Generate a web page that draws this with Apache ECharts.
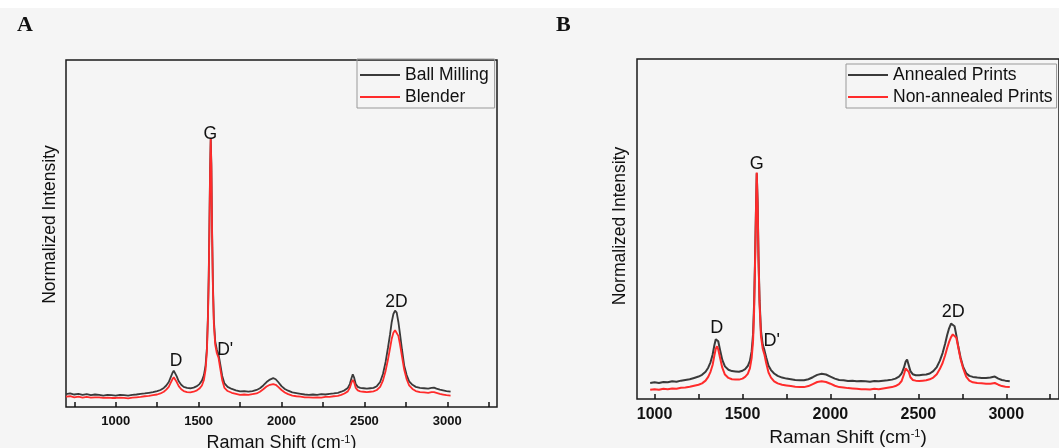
<!DOCTYPE html>
<html>
<head>
<meta charset="utf-8">
<script src="https://cdn.jsdelivr.net/npm/echarts@6/dist/echarts.min.js"></script>
<style>
  html, body { margin: 0; padding: 0; background: #f5f5f5; }
  #chart { width: 1059px; height: 448px; }
</style>
</head>
<body>
<div id="chart"></div>
<script>
// Panel A: Ball Milling vs Blender
const shiftA = [
  700, 725, 750, 775, 800, 825, 850, 875, 900, 925,
  950, 975, 1000, 1025, 1050, 1075, 1100, 1125, 1150, 1175,
  1200, 1225, 1250, 1270, 1290, 1305, 1320, 1332, 1342, 1350,
  1358, 1368, 1380, 1395, 1410, 1430, 1450, 1470, 1490, 1505,
  1520, 1532, 1542, 1550, 1556, 1561, 1565, 1569, 1573, 1577,
  1581, 1586, 1592, 1600, 1610, 1620, 1630, 1642, 1656, 1675,
  1700, 1725, 1750, 1775, 1800, 1825, 1850, 1870, 1890, 1910,
  1930, 1950, 1965, 1980, 2000, 2020, 2040, 2065, 2090, 2115,
  2140, 2165, 2190, 2215, 2240, 2265, 2290, 2315, 2340, 2360,
  2380, 2400, 2412, 2422, 2430, 2438, 2448, 2460, 2475, 2495,
  2515, 2535, 2555, 2575, 2595, 2612, 2628, 2642, 2655, 2665,
  2675, 2685, 2695, 2705, 2715, 2727, 2740, 2755, 2770, 2790,
  2810, 2835, 2860, 2885, 2905, 2920, 2935, 2955, 2975, 2995,
  3020
]
const ballMilling = [
  .037, .039, .036, .038, .035, .037, .034, .036, .035, .033,
  .035, .034, .033, .035, .034, .033, .035, .036, .038, .039,
  .041, .043, .046, .049, .055, .062, .072, .086, .098, .105,
  .101, .088, .074, .064, .058, .055, .054, .056, .060, .066,
  .076, .092, .12, .17, .26, .38, .52, .68, .774, .70,
  .52, .36, .25, .19, .165, .152, .125, .09, .068, .058,
  .052, .048, .045, .046, .044, .046, .049, .054, .062, .072,
  .079, .083, .080, .072, .060, .052, .047, .042, .040, .038,
  .036, .035, .036, .035, .037, .036, .038, .039, .041, .044,
  .048, .055, .066, .083, .094, .085, .066, .058, .055, .054,
  .053, .054, .055, .060, .072, .095, .13, .17, .21, .245,
  .268, .278, .272, .245, .21, .165, .12, .092, .074, .064,
  .058, .055, .054, .053, .055, .056, .053, .050, .048, .046,
  .044
]
const blender = [
  .030, .031, .028, .030, .027, .029, .027, .028, .028, .026,
  .027, .026, .026, .027, .026, .025, .027, .028, .029, .031,
  .032, .034, .036, .039, .044, .050, .058, .070, .080, .086,
  .082, .072, .060, .051, .046, .043, .042, .044, .048, .053,
  .062, .078, .108, .16, .25, .37, .51, .67, .772, .69,
  .51, .35, .24, .18, .155, .142, .112, .078, .055, .046,
  .041, .038, .035, .036, .035, .037, .039, .044, .051, .059,
  .064, .066, .064, .058, .049, .042, .037, .033, .031, .030,
  .028, .028, .027, .028, .027, .029, .029, .031, .032, .035,
  .039, .045, .055, .070, .078, .071, .055, .048, .045, .044,
  .043, .044, .045, .049, .058, .076, .104, .136, .17, .197,
  .214, .221, .222, .205, .18, .145, .108, .08, .062, .052,
  .046, .043, .042, .041, .043, .043, .041, .038, .036, .034,
  .033
]

// Panel B: annealed vs non-annealed prints
const shiftB = [
  975, 1000, 1025, 1050, 1075, 1100, 1125, 1150, 1175, 1200,
  1225, 1250, 1270, 1290, 1305, 1318, 1330, 1340, 1348, 1355,
  1362, 1372, 1385, 1400, 1420, 1440, 1460, 1480, 1500, 1515,
  1530, 1542, 1552, 1560, 1566, 1571, 1576, 1581, 1586, 1591,
  1597, 1605, 1615, 1625, 1635, 1648, 1662, 1680, 1700, 1725,
  1750, 1775, 1800, 1825, 1850, 1875, 1900, 1925, 1950, 1975,
  2000, 2025, 2050, 2075, 2100, 2125, 2150, 2175, 2200, 2225,
  2250, 2275, 2300, 2325, 2350, 2370, 2390, 2405, 2418, 2428,
  2436, 2445, 2455, 2468, 2485, 2505, 2525, 2545, 2565, 2585,
  2605, 2622, 2638, 2652, 2664, 2675, 2686, 2696, 2706, 2716,
  2727, 2740, 2755, 2772, 2790, 2810, 2835, 2860, 2885, 2910,
  2935, 2955, 2975, 2995, 3020
]
const annealed = [
  .047, .049, .047, .050, .049, .052, .051, .054, .056, .058,
  .062, .066, .071, .080, .092, .108, .13, .158, .176, .181,
  .170, .145, .115, .096, .086, .082, .081, .080, .083, .088,
  .097, .112, .14, .19, .28, .40, .54, .664, .58, .42,
  .29, .20, .16, .143, .122, .098, .085, .075, .068, .063,
  .060, .058, .056, .055, .055, .058, .064, .071, .074, .072,
  .066, .060, .056, .055, .053, .054, .052, .053, .052, .051,
  .053, .052, .054, .055, .057, .060, .066, .075, .092, .110,
  .116, .100, .082, .073, .070, .070, .071, .072, .075, .082,
  .094, .112, .135, .162, .188, .208, .222, .226, .214, .188,
  .155, .122, .094, .076, .068, .065, .063, .062, .062, .063,
  .066, .060, .056, .054, .052
]
const nonAnnealed = [
  .027, .029, .027, .030, .029, .031, .030, .033, .034, .036,
  .039, .042, .046, .054, .065, .080, .10, .128, .148, .155,
  .146, .122, .092, .072, .062, .058, .057, .057, .060, .065,
  .074, .090, .12, .17, .26, .39, .53, .666, .57, .41,
  .28, .185, .148, .13, .105, .078, .063, .052, .046, .042,
  .040, .038, .036, .035, .035, .038, .044, .050, .052, .050,
  .045, .039, .035, .034, .032, .031, .030, .029, .029, .028,
  .030, .029, .031, .033, .035, .038, .044, .053, .072, .090,
  .094, .080, .064, .056, .054, .053, .054, .055, .058, .063,
  .073, .088, .106, .128, .150, .168, .182, .19, .194, .18,
  .152, .118, .09, .066, .054, .049, .047, .046, .045, .045,
  .047, .042, .038, .036, .035
]

// peak labels (name, shift, height)
const peakNames = ['D', 'G', "D'", '2D']
const peakShiftA = [1364, 1570, 1660, 2693]
const peakYA = [0.131, 0.785, 0.164, 0.303]
const peakShiftB = [1353, 1581, 1666, 2699]
const peakYB = [0.209, 0.692, 0.170, 0.255]

const ticksA = [750, 1000, 1250, 1500, 1750, 2000, 2250, 2500, 2750, 3000, 3250]
const ticksB = [1000, 1250, 1500, 1750, 2000, 2250, 2500, 2750, 3000, 3250]
const labels = [1000, 1500, 2000, 2500, 3000]

const FONT = '"Liberation Sans", Arial, sans-serif'
const BLACK = '#3a3a3a'
const RED = '#ff2b2b'

const pairs = (xs, ys) => xs.map((x, i) => [x, ys[i]])
const peaks = (xs, ys, size) => ({
  symbol: 'rect',
  symbolSize: 1,
  itemStyle: { color: 'transparent' },
  label: { show: true, position: 'inside', formatter: '{b}', color: '#111', fontSize: size, fontFamily: FONT },
  data: peakNames.map((n, i) => ({ name: n, coord: [xs[i], ys[i]] }))
})

const xAxis = (idx, min, ticks, fontSize, nameSize, gap) => ({
  type: 'value',
  gridIndex: idx,
  min: min,
  max: 3300,
  axisLine: { show: false },
  splitLine: { show: false },
  axisTick: { show: true, inside: true, length: 5, customValues: ticks, lineStyle: { color: '#111', width: 1.5 } },
  axisLabel: {
    customValues: labels, formatter: v => String(v),
    fontWeight: 'bold', fontSize: fontSize, fontFamily: FONT, color: '#111', margin: 8
  },
  name: 'Raman Shift (cm{sup|-1})',
  nameLocation: 'middle',
  nameGap: gap,
  nameTextStyle: {
    fontSize: nameSize, fontFamily: FONT, color: '#111',
    rich: { sup: { fontSize: 11, fontFamily: FONT, color: '#111', verticalAlign: 'top' } }
  }
})

const yAxis = (idx, gap, shiftUp) => ({
  type: 'value',
  gridIndex: idx,
  min: 0,
  max: 1,
  axisLine: { show: false },
  axisTick: { show: false },
  axisLabel: { show: false },
  splitLine: { show: false },
  name: 'Normalized Intensity',
  nameLocation: 'middle',
  nameRotate: 90,
  nameGap: gap,
  nameTextStyle: { fontSize: 17.5, fontFamily: FONT, color: '#111', padding: [0, 0, 0, shiftUp] }
})

const line = (name, xs, ys, color, idx, width, mark) => ({
  name: name,
  type: 'line',
  xAxisIndex: idx,
  yAxisIndex: idx,
  data: pairs(xs, ys),
  symbol: 'none',
  showSymbol: false,
  lineStyle: { color: color, width: width },
  itemStyle: { color: color },
  markPoint: mark,
  animation: false
})

const legendBox = (names, left, top, padding) => ({
  data: names.map(n => ({ name: n, icon: 'rect' })),
  orient: 'vertical', left: left, top: top,
  padding: padding, itemGap: 4, itemWidth: 40, itemHeight: 2,
  borderColor: '#999', borderWidth: 1,
  textStyle: { fontSize: 17.5, fontFamily: FONT, color: '#111' }
})

const chart = echarts.init(document.getElementById('chart'))
chart.setOption({
  backgroundColor: '#f5f5f5',
  animation: false,
  graphic: [
    { type: 'rect', shape: { x: 0, y: 0, width: 1059, height: 8 }, style: { fill: '#ffffff' } },
    { type: 'text', left: 17, top: 14, style: { text: 'A', font: 'bold 22px "Liberation Serif", serif', fill: '#111' } },
    { type: 'text', left: 556, top: 14, style: { text: 'B', font: 'bold 22px "Liberation Serif", serif', fill: '#111' } }
  ],
  grid: [
    {
      left: 66, top: 60, width: 431, height: 347, outerBoundsMode: 'none', containLabel: false,
      show: true, borderColor: '#1a1a1a', borderWidth: 1.5, backgroundColor: 'transparent'
    },
    {
      left: 637, top: 59, width: 422, height: 340, outerBoundsMode: 'none', containLabel: false,
      show: true, borderColor: '#1a1a1a', borderWidth: 1.5, backgroundColor: 'transparent'
    }
  ],
  legend: [
    legendBox(['Ball Milling', 'Blender'], 357, 59, [7, 6, 2, 3]),
    legendBox(['Annealed Prints', 'Non-annealed Prints'], 846, 64, [2, 4, 2, 2])
  ],
  xAxis: [
    xAxis(0, 700, ticksA, 13, 18, 27),
    xAxis(1, 900, ticksB, 16, 19, 29)
  ],
  yAxis: [
    yAxis(0, 7, 18),
    yAxis(1, 8, 6)
  ],
  series: [
    line('Ball Milling', shiftA, ballMilling, BLACK, 0, 1.8, peaks(peakShiftA, peakYA, 17.5)),
    line('Blender', shiftA, blender, RED, 0, 1.8),
    line('Annealed Prints', shiftB, annealed, BLACK, 1, 2, peaks(peakShiftB, peakYB, 18)),
    line('Non-annealed Prints', shiftB, nonAnnealed, RED, 1, 2)
  ]
})
</script>
</body>
</html>
